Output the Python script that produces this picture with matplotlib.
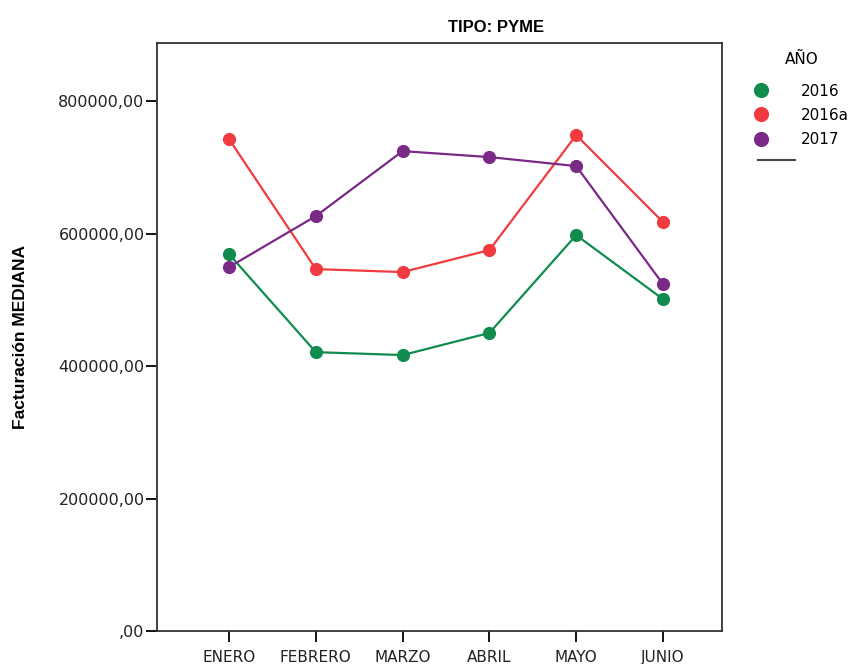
import matplotlib
matplotlib.use('Agg')
import matplotlib.pyplot as plt
from matplotlib.lines import Line2D

# datos
meses = ['ENERO', 'FEBRERO', 'MARZO', 'ABRIL', 'MAYO', 'JUNIO']
serie_2016 = [569000, 421000, 416600, 450000, 597700, 501000]
serie_2016a = [742600, 546400, 541900, 575100, 748700, 617400]
serie_2017 = [549400, 626400, 724500, 715500, 701900, 523800]
etiquetas = ['2016', '2016a', '2017']
colores = ['#118c4e', '#f03c40', '#7a2a86']
yticks = [0, 200000, 400000, 600000, 800000]


def fmt_y(v, pos):
    if v == 0:
        return ',00'
    return f"{v:.2f}".replace('.', ',')


fig = plt.figure(figsize=(8.58, 6.64), dpi=100)
ax = fig.add_axes([0.183, 0.0497, 0.6585, 0.8853])

x = list(range(len(meses)))
for serie, lab, col in zip([serie_2016, serie_2016a, serie_2017], etiquetas, colores):
    ax.plot(x, serie, color=col, lw=1.6, marker='o', markersize=9.5,
            markeredgewidth=0, label=lab)

ax.set_xlim(-0.83, 5.68)
ax.set_ylim(0, 887500)
ax.set_xticks(x)
ax.set_xticklabels(meses, fontsize=11, color='#222222')
ax.set_yticks(yticks)
ax.yaxis.set_major_formatter(plt.FuncFormatter(fmt_y))
ax.tick_params(axis='y', labelsize=11.5, labelcolor='#222222', length=8, width=1.3, pad=1)
ax.tick_params(axis='x', length=8, width=1.3, pad=6)
for sp in ax.spines.values():
    sp.set_linewidth(1.3)
    sp.set_color('#333333')

ax.set_ylabel('Facturación MEDIANA', fontsize=12.5, fontweight='bold',
              family='Liberation Sans', labelpad=22)
ax.set_title('TIPO: PYME', fontsize=12, fontweight='bold',
             family='Liberation Sans', x=0.6, pad=8)

leg = fig.legend(loc='upper left', bbox_to_anchor=(0.864, 0.9425), frameon=False,
                 title='AÑO', fontsize=11, title_fontsize=11,
                 handlelength=0.8, handletextpad=2.2, labelspacing=0.6,
                 markerscale=1.15)
leg._legend_box.sep = 12
for h in leg.legend_handles:
    h.set_linestyle('none')

# linea suelta bajo la leyenda
fig.add_artist(Line2D([758 / 858, 795 / 858], [1 - 160 / 664, 1 - 160 / 664],
                      color='#444444', lw=1.5))

fig.savefig('out.png', dpi=100)
